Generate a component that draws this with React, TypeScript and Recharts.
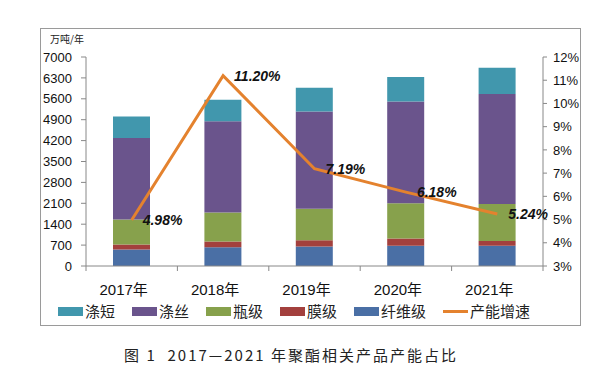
import React from 'react';
import { ComposedChart, Bar, Line, XAxis, YAxis, LabelList } from 'recharts';

const years = ['2017年', '2018年', '2019年', '2020年', '2021年'];
const fiberGrade = [555, 630, 654, 675, 675]; // 纤维级
const filmGrade = [165, 190, 209, 243, 165]; // 膜级
const bottleGrade = [840, 972, 1051, 1182, 1240]; // 瓶级
const filament = [2730, 3052, 3262, 3408, 3683]; // 涤丝
const staple = [720, 720, 796, 819, 873]; // 涤短
const growth = [4.98, 11.2, 7.19, 6.18, 5.24]; // 产能增速 %

const leftTicks = [0, 700, 1400, 2100, 2800, 3500, 4200, 4900, 5600, 6300, 7000];
const rightTicks = [3, 4, 5, 6, 7, 8, 9, 10, 11, 12];

const data = years.map((y, i) => ({
  year: y,
  fiber: fiberGrade[i],
  film: filmGrade[i],
  bottle: bottleGrade[i],
  filament: filament[i],
  staple: staple[i],
  growth: growth[i],
}));

const COLORS = {
  staple: '#4197AD',
  filament: '#6A548C',
  bottle: '#87A14C',
  film: '#A3403D',
  fiber: '#4A6FA5',
  growth: '#E4822E',
};

const legendItems = [
  { name: '涤短', color: COLORS.staple, type: 'rect' },
  { name: '涤丝', color: COLORS.filament, type: 'rect' },
  { name: '瓶级', color: COLORS.bottle, type: 'rect' },
  { name: '膜级', color: COLORS.film, type: 'rect' },
  { name: '纤维级', color: COLORS.fiber, type: 'rect' },
  { name: '产能增速', color: COLORS.growth, type: 'line' },
];

const tickFont = '"Liberation Sans", Arial, sans-serif';
const cjkFont = '"Noto Sans CJK SC", sans-serif';

const XTick = (props: any) => {
  const { x, y, payload, index, visibleTicksCount } = props;
  const half = payload && typeof payload.offset === 'number' ? payload.offset : 0;
  return (
    <g>
      <line x1={x - half} x2={x - half} y1={y} y2={y + 5} stroke="#888" />
      {index === visibleTicksCount - 1 && (
        <line x1={x + half} x2={x + half} y1={y} y2={y + 5} stroke="#888" />
      )}
      <text
        x={x - 8}
        y={y + 23}
        textAnchor="middle"
        dominantBaseline="central"
        fontSize={15}
        fill="#111"
        fontFamily={`"Liberation Sans", ${cjkFont}`}
      >
        {payload.value}
      </text>
    </g>
  );
};

const GrowthLabel = (props: any) => {
  const { x, y, value } = props;
  return (
    <text
      x={x + 11}
      y={y}
      dominantBaseline="central"
      textAnchor="start"
      fontSize={14}
      fontWeight="bold"
      fontStyle="italic"
      fill="#111"
      fontFamily={tickFont}
    >
      {Number(value).toFixed(2)}%
    </text>
  );
};

export default function App() {
  return (
    <div
      style={{
        position: 'absolute',
        left: 0,
        top: 0,
        width: 602,
        height: 377,
        background: '#fff',
      }}
    >
      <div
        style={{
          position: 'absolute',
          left: 40,
          top: 28,
          width: 541,
          height: 298,
          border: '1px solid #9a9a9a',
          boxSizing: 'border-box',
        }}
      />
      <div
        style={{
          position: 'absolute',
          left: 50,
          top: 33,
          fontSize: 10,
          fontFamily: cjkFont,
          color: '#222',
          lineHeight: '12px',
        }}
      >
        万吨/年
      </div>
      <div style={{ position: 'absolute', left: 0, top: 0 }}>
        <ComposedChart
          width={602}
          height={377}
          data={data}
          margin={{ top: 57, right: 0, bottom: 81, left: 0 }}
        >
          <XAxis
            dataKey="year"
            height={30}
            tickSize={0}
            tickMargin={0}
            tickLine={false}
            axisLine={{ stroke: '#888' }}
            tick={<XTick />}
            interval={0}
          />
          <YAxis
            yAxisId="l"
            width={86}
            domain={[0, 7000]}
            ticks={leftTicks}
            interval={0}
            tickSize={5}
            tickMargin={9}
            axisLine={{ stroke: '#888' }}
            tickLine={{ stroke: '#888' }}
            tick={{ fontSize: 13, fill: '#111', fontFamily: tickFont }}
          />
          <YAxis
            yAxisId="r"
            orientation="right"
            width={59}
            domain={[3, 12]}
            ticks={rightTicks}
            interval={0}
            tickSize={4}
            tickMargin={6}
            tickFormatter={(v: number) => `${v}%`}
            axisLine={{ stroke: '#888' }}
            tickLine={{ stroke: '#888' }}
            tick={{ fontSize: 13, fill: '#111', fontFamily: tickFont }}
          />
          <Bar yAxisId="l" dataKey="fiber" stackId="s" fill={COLORS.fiber} barSize={37} isAnimationActive={false} />
          <Bar yAxisId="l" dataKey="film" stackId="s" fill={COLORS.film} barSize={37} isAnimationActive={false} />
          <Bar yAxisId="l" dataKey="bottle" stackId="s" fill={COLORS.bottle} barSize={37} isAnimationActive={false} />
          <Bar yAxisId="l" dataKey="filament" stackId="s" fill={COLORS.filament} barSize={37} isAnimationActive={false} />
          <Bar yAxisId="l" dataKey="staple" stackId="s" fill={COLORS.staple} barSize={37} isAnimationActive={false} />
          <Line
            yAxisId="r"
            dataKey="growth"
            stroke={COLORS.growth}
            strokeWidth={3}
            dot={false}
            isAnimationActive={false}
          >
            <LabelList dataKey="growth" content={<GrowthLabel />} />
          </Line>
        </ComposedChart>
      </div>
      <div
        style={{
          position: 'absolute',
          left: 58,
          top: 301,
          display: 'flex',
          alignItems: 'center',
          fontFamily: cjkFont,
          fontSize: 15,
          color: '#222',
          lineHeight: '20px',
        }}
      >
        {legendItems.map((it) => (
          <div key={it.name} style={{ display: 'flex', alignItems: 'center', marginRight: 17 }}>
            {it.type === 'rect' ? (
              <span style={{ display: 'inline-block', width: 25, height: 9, background: it.color }} />
            ) : (
              <span style={{ display: 'inline-block', width: 25, height: 3, background: it.color }} />
            )}
            <span style={{ marginLeft: 2 }}>{it.name}</span>
          </div>
        ))}
      </div>
      <div
        style={{
          position: 'absolute',
          left: 0,
          width: 582,
          top: 344,
          textAlign: 'center',
          fontFamily: cjkFont,
          fontSize: 15,
          fontWeight: 400,
          letterSpacing: 2,
          color: '#222',
          lineHeight: '22px',
          whiteSpace: 'pre',
        }}
      >
        图 1  2017—2021 年聚酯相关产品产能占比
      </div>
    </div>
  );
}
